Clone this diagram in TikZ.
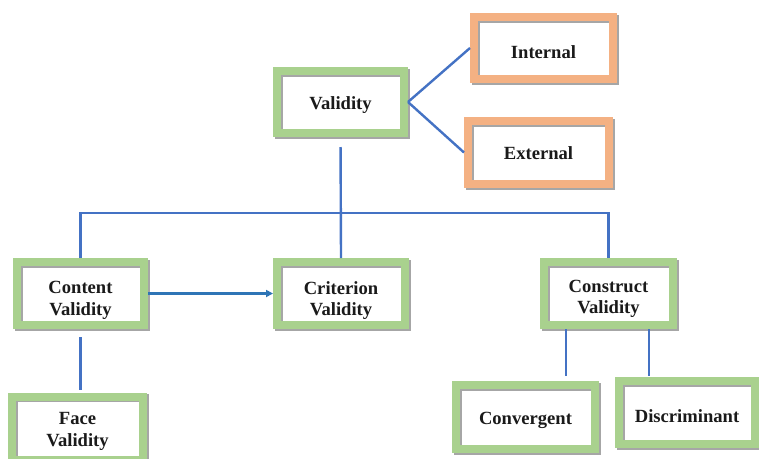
\documentclass[tikz,border=0pt]{standalone}
\usepackage{fontspec}
\setmainfont{Liberation Serif}
\usetikzlibrary{shadows,arrows.meta}
\definecolor{boxgreen}{HTML}{A9D18E}
\definecolor{boxorange}{HTML}{F4B183}
\definecolor{linkblue}{HTML}{4472C4}
\definecolor{arrowblue}{HTML}{2E75B6}
\definecolor{inktext}{HTML}{1A1A1A}
% set a line of a label lower without changing the space it takes
\newcommand\lowline[2]{\raisebox{-#1}[\height][\depth]{#2}}
\begin{document}
\begin{tikzpicture}[x=1pt,y=-1pt,
  frame/.style={draw=#1, line width=8pt, fill=none, inner sep=0pt,
    text=inktext, font=\fontsize{18.6}{21.5}\selectfont\bfseries, align=center,
    general shadow={draw=black!35, fill=none, line width=8pt,
      shadow xshift=1.8pt, shadow yshift=-1.8pt}},
  gbox/.style={frame=boxgreen},
  obox/.style={frame=boxorange},
  link/.style={draw=linkblue, line width=2.4pt},
  flow/.style={draw=arrowblue, line width=2.2pt, -{Triangle[length=7pt,width=7pt]}}
]
\useasboundingbox (0,0) rectangle (759,458);
\fill[white] (0,0) rectangle (759,458);

% boxes (sizes measured along the stroke centre line)
\node[gbox, minimum width=127pt, minimum height=62pt] (val)  at (340.5,102)
  {\lowline{3pt}{Validity}};
\node[obox, minimum width=139pt, minimum height=62pt] (int)  at (543.5,48)
  {\lowline{4pt}{Internal}};
\node[obox, minimum width=141pt, minimum height=63pt] (ext)  at (538.5,152.5)
  {\lowline{1pt}{External}};
\node[gbox, minimum width=127pt, minimum height=63pt] (cont) at (80.5,293.5)
  {\lowline{7pt}{Content}\\\lowline{7pt}{Validity}};
\node[gbox, minimum width=128pt, minimum height=63pt] (crit) at (341,293.5)
  {\lowline{7pt}{Criterion}\\\lowline{7pt}{Validity}};
\node[gbox, minimum width=129pt, minimum height=63pt] (cons) at (608.5,293.5)
  {\lowline{5.5pt}{Construct}\\\lowline{5.5pt}{Validity}};
\node[gbox, minimum width=139pt, minimum height=64pt] (conv) at (525.5,417)
  {\lowline{3pt}{Convergent}};
\node[gbox, minimum width=136pt, minimum height=63pt] (disc) at (687,412.5)
  {\lowline{4pt}{Discriminant}};
\node[gbox, minimum width=131pt, minimum height=63pt] (face) at (77.5,428)
  {\lowline{3.5pt}{Face}\\\lowline{3.5pt}{Validity}};

% branches of Validity
\draw[link] (val.east) -- (int.west);
\draw[link] (val.east) -- (ext.west);
\coordinate (bus) at (0,213);
\draw[link, shorten <=10pt] (val.south) -- (crit.north);
\draw[link] (cont.north) -- (cont.north |- bus) -- (cons.north |- bus) -- (cons.north);

% content to criterion
\draw[flow] (cont.east) -- (crit.west);

% lower branches
\draw[link, shorten <=8pt, shorten >=3pt] (cont.south) -- (cont.south |- face.north);
\draw[link, shorten >=5pt] ([xshift=-42.5pt]cons.south) -- ([xshift=-42.5pt]cons.south |- conv.north);
\draw[link, shorten >=1pt] ([xshift=40.5pt]cons.south) -- ([xshift=40.5pt]cons.south |- disc.north);
\end{tikzpicture}
\end{document}
